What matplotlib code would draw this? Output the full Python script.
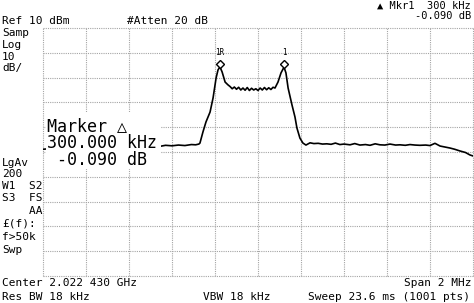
import matplotlib
matplotlib.use('Agg')
import matplotlib.pyplot as plt
from matplotlib.patches import Rectangle

# trace: offset from center (kHz) and level (dBm)
freq_khz = [-1000, -960, -920, -880, -840, -800, -760, -720, -680, -640,
            -600, -560, -520, -480, -455, -430, -400, -370, -340, -310,
            -290, -275, -270, -256, -242, -223, -209, -195, -186, -177,
            -167, -153, -140, -130, -120, -110, -100, -90, -80, -70,
            -60, -50, -40, -30, -20, -10, 0, 10, 20, 30,
            40, 50, 60, 70, 79, 93, 107, 121, 130, 140,
            158, 172, 181, 195, 209, 223, 242, 260, 280, 300,
            320, 340, 360, 381, 400, 428, 450, 474, 500, 521,
            545, 567, 590, 614, 640, 660, 685, 707, 730, 753,
            780, 800, 823, 847, 870, 893, 915, 940, 965, 986, 1000]
level_dbm = [-38.9, -38.6, -38.7, -38.3, -38.5, -38.1, -38.3, -37.9, -38.1, -37.8,
             -37.9, -37.6, -37.8, -37.5, -37.7, -37.3, -37.5, -37.2, -37.4, -37.0,
             -37.1, -36.8, -36.4, -31.9, -27.9, -23.9, -18.2, -10.2, -6.9, -5.7,
             -7.7, -11.8, -12.9, -13.6, -14.5, -13.8, -14.7, -13.9, -15.0, -14.2,
             -15.1, -14.0, -15.2, -14.3, -15.0, -14.5, -15.2, -14.2, -15.0, -14.0,
             -14.9, -14.1, -14.8, -13.9, -14.2, -11.8, -8.1, -5.8, -8.1, -14.2,
             -21.0, -25.9, -30.3, -34.4, -36.4, -37.2, -36.3, -36.6, -36.5, -36.8,
             -36.7, -36.9, -36.4, -37.0, -36.8, -37.1, -36.6, -37.2, -37.0, -37.3,
             -36.7, -37.1, -37.2, -36.8, -37.2, -37.1, -37.3, -37.0, -37.2, -37.3,
             -37.2, -37.4, -36.5, -37.6, -38.0, -38.4, -38.9, -39.6, -40.2, -41.2, -41.6]

marker_khz = [-177, 121]
marker_dbm = [-5.7, -5.8]
marker_names = ['1R', '1']

W, H = 474, 303
fig = plt.figure(figsize=(W / 100, H / 100), dpi=100)
ax = fig.add_axes([43 / W, 1 - 276 / H, 430 / W, 248 / H])

ax.plot(freq_khz, level_dbm, color='black', linewidth=1.2, zorder=3)
ax.plot(marker_khz, [m + 1.2 for m in marker_dbm], linestyle='none', marker='D',
        markersize=4.5, markerfacecolor='white', markeredgecolor='black',
        markeredgewidth=1.0, zorder=4)
for f, m, name in zip(marker_khz, marker_dbm, marker_names):
    ax.annotate(name, (f, m), xytext=(0, 7), textcoords='offset points',
                ha='center', va='bottom', fontsize=5.5, family='DejaVu Sans Mono')

ax.set_xlim(-1000, 1000)
ax.set_ylim(-90, 10)
ax.set_xticks(range(-1000, 1001, 200))
ax.set_yticks(range(-90, 11, 10))
ax.tick_params(length=0, labelbottom=False, labelleft=False)
ax.grid(True, color='#a5a5a5', linestyle=(0, (1, 1)), linewidth=0.8)
for s in ax.spines.values():
    s.set_visible(False)
for gl in ax.get_xgridlines() + ax.get_ygridlines():
    gl.set_clip_on(False)

mono = ['DejaVu Sans Mono', 'DejaVu Sans']


def txt(x, y, s, size=8, ha='left', **kw):
    fig.text(x / W, 1 - y / H, s, fontsize=size, ha=ha, va='center',
             family=mono, **kw)


# header
txt(471, 6, '▲ Mkr1  300 kHz', size=7.5, ha='right')
txt(471, 16, '-0.090 dB', size=7.5, ha='right')
txt(2, 21, 'Ref 10 dBm')
txt(127, 21, '#Atten 20 dB')

# left panel
left_lines = [(33, 'Samp'), (45, 'Log'), (57, '10'), (68, 'dB/'),
              (163, 'LgAv'), (174, '200'), (186, 'W1  S2'), (198, 'S3  FS'),
              (211, '    AA'), (224, '£(f):'), (237, 'f>50k'), (250, 'Swp')]
for y, s in left_lines:
    txt(2, y, s)

# marker readout with white box
fig.patches.append(Rectangle((46 / W, 1 - 169 / H), 115 / W, 57 / H,
                             transform=fig.transFigure, facecolor='white',
                             edgecolor='none', zorder=5))
txt(47, 126, 'Marker △', size=12, zorder=6)
txt(47, 143, '300.000 kHz', size=12, zorder=6)
txt(47, 160, ' -0.090 dB', size=12, zorder=6)

# footer
txt(2, 283, 'Center 2.022 430 GHz')
txt(472, 283, 'Span 2 MHz', ha='right')
txt(2, 297, 'Res BW 18 kHz')
txt(203, 297, 'VBW 18 kHz')
txt(308, 297, 'Sweep 23.6 ms (1001 pts)')

fig.savefig('out.png', dpi=100, facecolor='white')
